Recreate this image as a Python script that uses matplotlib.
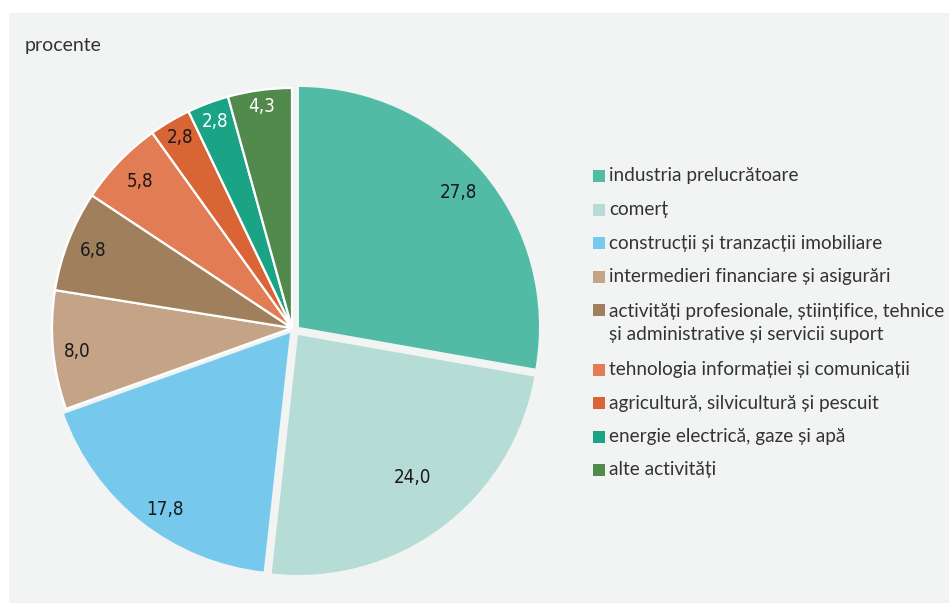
import numpy as np
import matplotlib.pyplot as plt
from matplotlib.patches import Rectangle

categories = ['industria prelucrătoare',
              'comerț',
              'construcții și tranzacții imobiliare',
              'intermedieri financiare și asigurări',
              'activități profesionale, științifice, tehnice\nși administrative și servicii suport',
              'tehnologia informației și comunicații',
              'agricultură, silvicultură și pescuit',
              'energie electrică, gaze și apă',
              'alte activități']
values = [27.8, 24.0, 17.8, 8.0, 6.8, 5.8, 2.8, 2.8, 4.3]
labels = ['27,8', '24,0', '17,8', '8,0', '6,8', '5,8', '2,8', '2,8', '4,3']
colors = ['#52bba6', '#b6dcd6', '#76c9ed', '#c4a386', '#a0805c',
          '#e27c54', '#d96536', '#1ba386', '#52894d']
label_colors = ['#1a1a1a'] * 7 + ['white', 'white']

bg = '#f2f4f3'
W, H = 949, 603
cx, cy, R = 292, 328, 240   # pie centre / radius in pixels

fig = plt.figure(figsize=(W / 100, H / 100), dpi=100)
fig.patches.append(Rectangle((9 / W, 0), 940 / W, 590 / H, transform=fig.transFigure,
                             facecolor=bg, edgecolor='none', zorder=-10))

pad = 1.1 * R
ax = fig.add_axes([(cx - pad) / W, (H - cy - pad) / H, 2 * pad / W, 2 * pad / H])

wedges, _ = ax.pie(values, colors=colors, startangle=90, counterclock=False,
                   wedgeprops=dict(edgecolor='white', linewidth=1.6))
ax.set_xlim(-1.1, 1.1)
ax.set_ylim(-1.1, 1.1)
ax.set_aspect('equal')
ax.axis('off')

# the three big slices are pulled a little apart (pixel offsets)
shifts = {0: (7, 1), 1: (6, -7), 2: (-2, -5)}
for i, (dx, dy) in shifts.items():
    wedges[i].set_center((dx / R, dy / R))
    wedges[i].set_edgecolor('none')

lab_r = [0.87, 0.76, 0.9, 0.9, 0.89, 0.88, 0.92, 0.92, 0.93]
lab_da = [0, 2, 3, 1, 0, 0, 0, 0, 0]
for w, r, da, t, c in zip(wedges, lab_r, lab_da, labels, label_colors):
    ang = np.deg2rad((w.theta1 + w.theta2) / 2 + da)
    x0, y0 = w.center
    ax.text(x0 + r * np.cos(ang), y0 + r * np.sin(ang), t, ha='center', va='center',
            fontsize=13.5, color=c, family='DejaVu Sans', fontstretch='condensed')

fig.text(25 / W, 1 - 46 / H, 'procente', fontsize=14, color='#333333',
         family='Lato', va='center', ha='left')

# legend
ly, step, line = 176, 33.5, 26
for cat, col in zip(categories, colors):
    n = cat.count('\n') + 1
    fig.patches.append(Rectangle((593 / W, 1 - (ly + 6) / H), 12 / W, 12 / H,
                                 transform=fig.transFigure, facecolor=col, edgecolor='none'))
    fig.text(609 / W, 1 - (ly + (n - 1) * line / 2) / H, cat, fontsize=13.7, color='#333333',
             family='Lato', va='center', ha='left', linespacing=1.4)
    ly += step + (n - 1) * line

fig.savefig('out.png', dpi=100, facecolor='white')
